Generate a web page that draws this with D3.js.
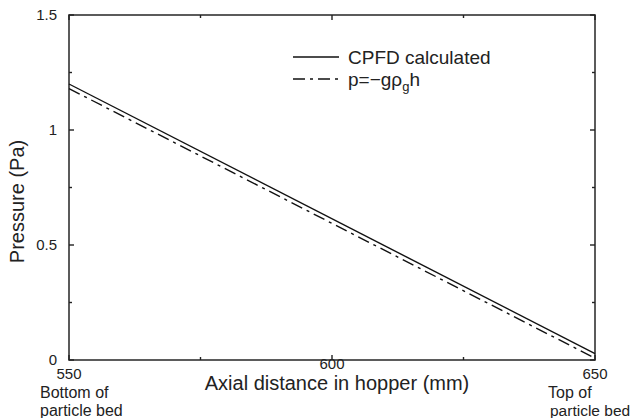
<!DOCTYPE html>
<html>
<head>
<meta charset="utf-8">
<script src="https://cdn.jsdelivr.net/npm/d3@7"></script>
<style>
  body { margin: 0; background: #fff; }
  text { font-family: "Liberation Sans", Arial, sans-serif; fill: #222; }
</style>
</head>
<body>
<script>
// ----------------------------------------
//  Data
// ----------------------------------------

var axialDistance = [550, 650];          // mm
var cpfdPressure = [1.2, 0.028];         // Pa, CPFD calculated
var hydroPressure = [1.18, 0.008];       // Pa, p = -g rho_g h
var yTicks = [0, 0.5, 1, 1.5];
var yMinorTicks = [0.25, 0.75, 1.25];
var xTicks = [550, 600, 650];
var xMinorTicks = [575, 625];

margin = {top: 15, right: 38, bottom: 58, left: 69};
width = 633 - margin.left - margin.right;
height = 418 - margin.top - margin.bottom;

// ----------------------------------------
// Scales
// ----------------------------------------

var x = d3.scaleLinear().domain([550, 650]).range([0, width]);
var y = d3.scaleLinear().domain([0, 1.5]).range([height, 0]);

var svg = d3.select("body").append("svg")
    .attr("width", 633)
    .attr("height", 418)
    .append("g")
    .attr("transform", "translate(" + margin.left + "," + margin.top + ")");

// frame
svg.append("rect")
    .attr("width", width)
    .attr("height", height)
    .attr("fill", "none")
    .attr("stroke", "#333")
    .attr("stroke-width", 1.6);

// ticks pointing inwards on all four sides
function ticks(vals, len) {
  vals.forEach(function(v) {
    svg.append("line").attr("x1", 0).attr("x2", len).attr("y1", y(v)).attr("y2", y(v));
    svg.append("line").attr("x1", width).attr("x2", width - len).attr("y1", y(v)).attr("y2", y(v));
  });
}
function xticks(vals, len) {
  vals.forEach(function(v) {
    svg.append("line").attr("y1", height).attr("y2", height - len).attr("x1", x(v)).attr("x2", x(v));
    svg.append("line").attr("y1", 0).attr("y2", len).attr("x1", x(v)).attr("x2", x(v));
  });
}
ticks(yTicks, 5);
ticks(yMinorTicks, 3);
xticks(xTicks, 5);
xticks(xMinorTicks, 3);
svg.selectAll("line").attr("stroke", "#222").attr("stroke-width", 1.4);

// tick labels
svg.selectAll(".ylab")
    .data(yTicks)
    .enter()
    .append("text")
    .attr("x", -12)
    .attr("y", function(d) { return y(d); })
    .attr("dy", "0.35em")
    .attr("text-anchor", "end")
    .style("font-size", "15px")
    .text(function(d) { return d; });

// the middle label sits higher, closer to the axis
svg.selectAll(".xlab")
    .data(xTicks)
    .enter()
    .append("text")
    .attr("x", function(d) { return x(d); })
    .attr("y", function(d) { return d == 600 ? height + 9 : height + 19; })
    .attr("text-anchor", "middle")
    .style("font-size", "15px")
    .text(function(d) { return d; });

// ----------------------------------------
// Lines
// ----------------------------------------

var line = d3.line()
    .x(function(d) { return x(d[0]); })
    .y(function(d) { return y(d[1]); });

svg.append("path")
    .datum(d3.zip(axialDistance, cpfdPressure))
    .attr("d", line)
    .attr("fill", "none")
    .attr("stroke", "#111")
    .attr("stroke-width", 1.4);

svg.append("path")
    .datum(d3.zip(axialDistance, hydroPressure))
    .attr("d", line)
    .attr("fill", "none")
    .attr("stroke", "#111")
    .attr("stroke-width", 1.4)
    .attr("stroke-dasharray", "12,5,3,5");

// ----------------------------------------
// Legend
// ----------------------------------------

var leg = svg.append("g").attr("transform", "translate(224,42)");
leg.append("line").attr("x1", 0).attr("x2", 46).attr("y1", 0).attr("y2", 0)
    .attr("stroke", "#111").attr("stroke-width", 1.4);
leg.append("text").attr("x", 55).attr("y", 0).attr("dy", "0.35em")
    .style("font-size", "19px").text("CPFD calculated");
leg.append("line").attr("x1", 0).attr("x2", 46).attr("y1", 22).attr("y2", 22)
    .attr("stroke", "#111").attr("stroke-width", 1.4).attr("stroke-dasharray", "12,5,3,5");
var t2 = leg.append("text").attr("x", 55).attr("y", 22).attr("dy", "0.35em")
    .style("font-size", "19px");
t2.append("tspan").text("p=\u2212g\u03c1");
t2.append("tspan").attr("dy", "5").style("font-size", "13px").text("g");
t2.append("tspan").attr("dy", "-5").text("h");

// ----------------------------------------
// Axis titles
// ----------------------------------------

svg.append("text")
    .attr("x", width / 2 + 5)
    .attr("y", height + 30)
    .attr("text-anchor", "middle")
    .style("font-size", "20px")
    .text("Axial distance in hopper (mm)");

svg.append("text")
    .attr("transform", "translate(-45," + (height / 2 + 14) + ") rotate(-90)")
    .attr("text-anchor", "middle")
    .style("font-size", "20px")
    .text("Pressure (Pa)");

// end labels
var endLabels = [["Bottom of", "particle bed"], ["Top of", "particle bed"]];
svg.append("text").attr("x", -29).attr("y", height + 38).style("font-size", "16px").text(endLabels[0][0]);
svg.append("text").attr("x", -29).attr("y", height + 56).style("font-size", "16px").text(endLabels[0][1]);
svg.append("text").attr("x", width - 47).attr("y", height + 38).style("font-size", "16px").text(endLabels[1][0]);
svg.append("text").attr("x", width - 45).attr("y", height + 56).style("font-size", "15.5px").text(endLabels[1][1]);
</script>
</body>
</html>
